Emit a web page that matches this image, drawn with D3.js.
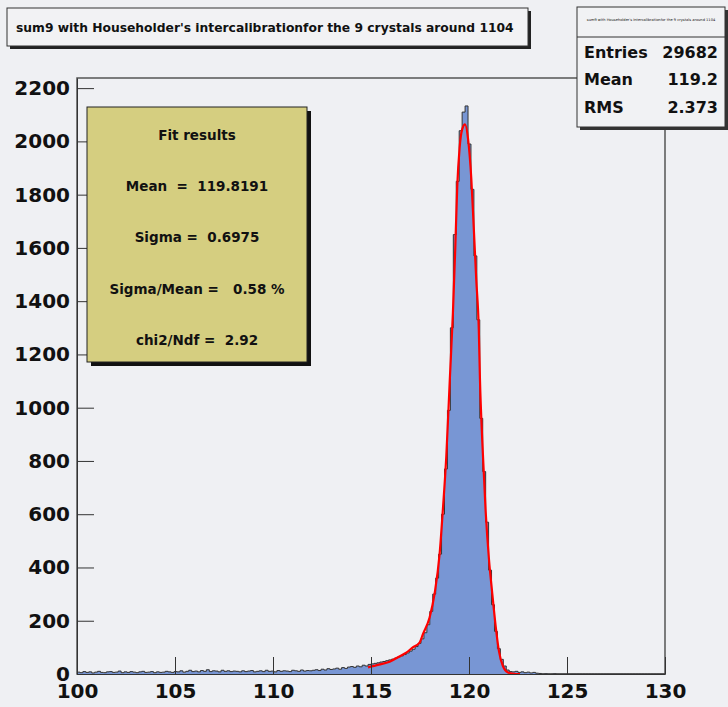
<!DOCTYPE html>
<html lang="en">
<head>
<meta charset="UTF-8">
<title>sum9 histogram</title>
<script src="https://cdn.jsdelivr.net/npm/d3@7"></script>
<style>
  body { margin: 0; background: #eff0f3; }
  svg text { font-family: "DejaVu Sans", Verdana, sans-serif; font-weight: bold; fill: #111; }
</style>
</head>
<body>
<svg width="728" height="707"></svg>
<script>
// histogram: 200 bins of width 0.15 between 100 and 130
var binStart = 100, binWidth = 0.15;
var counts = [
  7, 5, 9, 6, 8, 4, 7, 10, 6, 5, 8, 9, 6, 7, 11, 5, 8, 6, 9, 7,
  5, 8, 10, 6, 7, 9, 5, 8, 6, 7, 10, 8, 6, 9, 8, 12, 7, 10, 14, 9,
  11, 8, 13, 10, 16, 9, 12, 11, 8, 14, 10, 12, 9, 11, 10, 8, 12, 9, 11, 13,
  8, 10, 12, 9, 14, 10, 11, 8, 13, 10, 12, 11, 9, 14, 12, 10, 15, 11, 13, 12,
  14, 16, 13, 18, 15, 20, 17, 19, 22, 18, 24, 21, 26, 28, 25, 30, 27, 33, 30, 36,
  38, 40, 42, 45, 47, 50, 53, 56, 60, 64, 68, 73, 79, 86, 93, 103, 115, 132, 155, 185,
  235, 300, 360, 450, 600, 770, 990, 1300, 1650, 1850, 2040, 2110, 2133, 1990, 1820, 1570, 1330, 960, 760, 570,
  390, 260, 160, 95, 55, 30, 15, 9, 8, 10, 6, 8, 5, 7, 4, 6, 3, 2, 0, 1,
  0, 0, 1, 0, 0, 0, 0, 0, 0, 0, 0, 0, 0, 0, 0, 0, 0, 0, 0, 0,
  0, 0, 0, 0, 0, 0, 0, 0, 0, 0, 0, 0, 0, 0, 0, 0, 0, 0, 0, 0
];

// red fit curve
var fitX = [114.85, 115.4, 115.95, 116.45, 116.8, 117.13, 117.48, 117.65, 117.99, 118.25, 118.5, 118.67, 118.84,
            119.02, 119.18, 119.3, 119.4, 119.52, 119.65, 119.8, 119.95, 120.12, 120.24, 120.37, 120.5, 120.56,
            120.68, 120.85, 121.02, 121.19, 121.36, 121.53, 121.73, 121.99, 122.3, 122.6];
var fitY = [25, 35, 46, 66, 80, 100, 118, 150, 212, 304, 450, 620, 815,
            1105, 1357, 1600, 1830, 1975, 2045, 2064, 2010, 1857, 1680, 1481, 1293, 1105,
            870, 610, 430, 300, 180, 85, 30, 6, 1, 0];

var xTicks = [100, 105, 110, 115, 120, 125, 130];
var yTicks = [0, 200, 400, 600, 800, 1000, 1200, 1400, 1600, 1800, 2000, 2200];
var yMax = 2238;

var title = "sum9 with Householder's intercalibrationfor the 9 crystals around 1104";
var statLabels = ["Entries", "Mean", "RMS"];
var statValues = ["29682", "119.2", "2.373"];
var fitLines = ["Fit results", "Mean  =  119.8191", "Sigma =  0.6975", "Sigma/Mean =   0.58 %", "chi2/Ndf =  2.92"];

var svg = d3.select("svg");
var padL = 77, padR = 665, padT = 78, padB = 674;

var x = d3.scaleLinear().domain([100, 130]).range([padL, padR]);
var y = d3.scaleLinear().domain([0, yMax]).range([padB, padT]);

// frame
svg.append("rect")
  .attr("x", padL).attr("y", padT)
  .attr("width", padR - padL).attr("height", padB - padT)
  .attr("fill", "none").attr("stroke", "#555").attr("stroke-width", 1.5);

// histogram
var bins = counts.map(function(c, i) { return { x0: binStart + i * binWidth, c: c }; });
bins.push({ x0: 130, c: counts[counts.length - 1] });

var area = d3.area()
  .x(function(d) { return x(d.x0); })
  .y0(y(0))
  .y1(function(d) { return y(d.c); })
  .curve(d3.curveStepAfter);
var outline = d3.line()
  .x(function(d) { return x(d.x0); })
  .y(function(d) { return y(d.c); })
  .curve(d3.curveStepAfter);

svg.append("path").datum(bins).attr("d", area).attr("fill", "#7896d4");
svg.append("path").datum(bins).attr("d", outline)
  .attr("fill", "none").attr("stroke", "#333").attr("stroke-width", 1);

// fit curve
var fitPts = fitX.map(function(v, i) { return [v, fitY[i]]; });
svg.append("path").datum(fitPts)
  .attr("d", d3.line().x(function(d) { return x(d[0]); }).y(function(d) { return y(d[1]); }).curve(d3.curveMonotoneX))
  .attr("fill", "none").attr("stroke", "#ff0000").attr("stroke-width", 2.2);

// axes, ticks pointing inside like ROOT
var yMinor = d3.range(0, 2201, 50);
var xMinor = d3.range(100, 131, 1);

var gy = svg.append("g").attr("transform", "translate(" + padL + ",0)").style("color", "#333");
gy.call(d3.axisLeft(y).tickValues(yMinor).tickSize(-8).tickSizeOuter(0).tickFormat(""));
gy.call(d3.axisLeft(y).tickValues(yTicks).tickSize(-17).tickSizeOuter(0).tickPadding(7).tickFormat(d3.format("d")));
gy.selectAll("text").style("font-size", "20px");

var gx = svg.append("g").attr("transform", "translate(0," + padB + ")").style("color", "#333");
gx.call(d3.axisBottom(x).tickValues(xMinor).tickSize(-8).tickSizeOuter(0).tickFormat(""));
gx.call(d3.axisBottom(x).tickValues(xTicks).tickSize(-17).tickSizeOuter(0).tickPadding(10));
gx.selectAll("text").style("font-size", "20px");

// title box
svg.append("rect").attr("x", 10).attr("y", 11).attr("width", 521).attr("height", 38).attr("fill", "#222");
svg.append("rect").attr("x", 7).attr("y", 8).attr("width", 521).attr("height", 38)
  .attr("fill", "#f2f2f4").attr("stroke", "#333").attr("stroke-width", 1);
svg.append("text").attr("x", 16).attr("y", 28).attr("dy", "0.35em")
  .style("font-size", "12.3px").text(title);

// stats box
svg.append("rect").attr("x", 580).attr("y", 10).attr("width", 148).attr("height", 120).attr("fill", "#333");
svg.append("rect").attr("x", 577).attr("y", 7).attr("width", 148).attr("height", 120)
  .attr("fill", "#f1f2f4").attr("stroke", "#333").attr("stroke-width", 1);
svg.append("line").attr("x1", 577).attr("x2", 725).attr("y1", 37).attr("y2", 37)
  .attr("stroke", "#333").attr("stroke-width", 1);
svg.append("text").attr("x", 651).attr("y", 21).attr("text-anchor", "middle")
  .style("font-size", "3.6px").style("font-weight", "normal").text(title);

var statY = d3.scalePoint().domain(statLabels).range([52, 107]);
svg.selectAll(".slab").data(statLabels).enter().append("text")
  .attr("x", 584).attr("y", function(d) { return statY(d); }).attr("dy", "0.35em")
  .style("font-size", "16px").text(function(d) { return d; });
svg.selectAll(".sval").data(statValues).enter().append("text")
  .attr("x", 718).attr("y", function(d, i) { return statY(statLabels[i]); }).attr("dy", "0.35em")
  .attr("text-anchor", "end").style("font-size", "16px").text(function(d) { return d; });

// fit results box
svg.append("rect").attr("x", 91).attr("y", 111).attr("width", 220).attr("height", 255).attr("fill", "#111");
svg.append("rect").attr("x", 87).attr("y", 107).attr("width", 220).attr("height", 255)
  .attr("fill", "#d5ce80").attr("stroke", "#222").attr("stroke-width", 1);
svg.selectAll(".fit").data(fitLines).enter().append("text")
  .attr("x", 197).attr("y", function(d, i) { return 135 + i * 51.3; }).attr("dy", "0.35em")
  .attr("text-anchor", "middle").style("font-size", "13.5px").style("white-space", "pre")
  .attr("xml:space", "preserve")
  .text(function(d) { return d; });
</script>
</body>
</html>
